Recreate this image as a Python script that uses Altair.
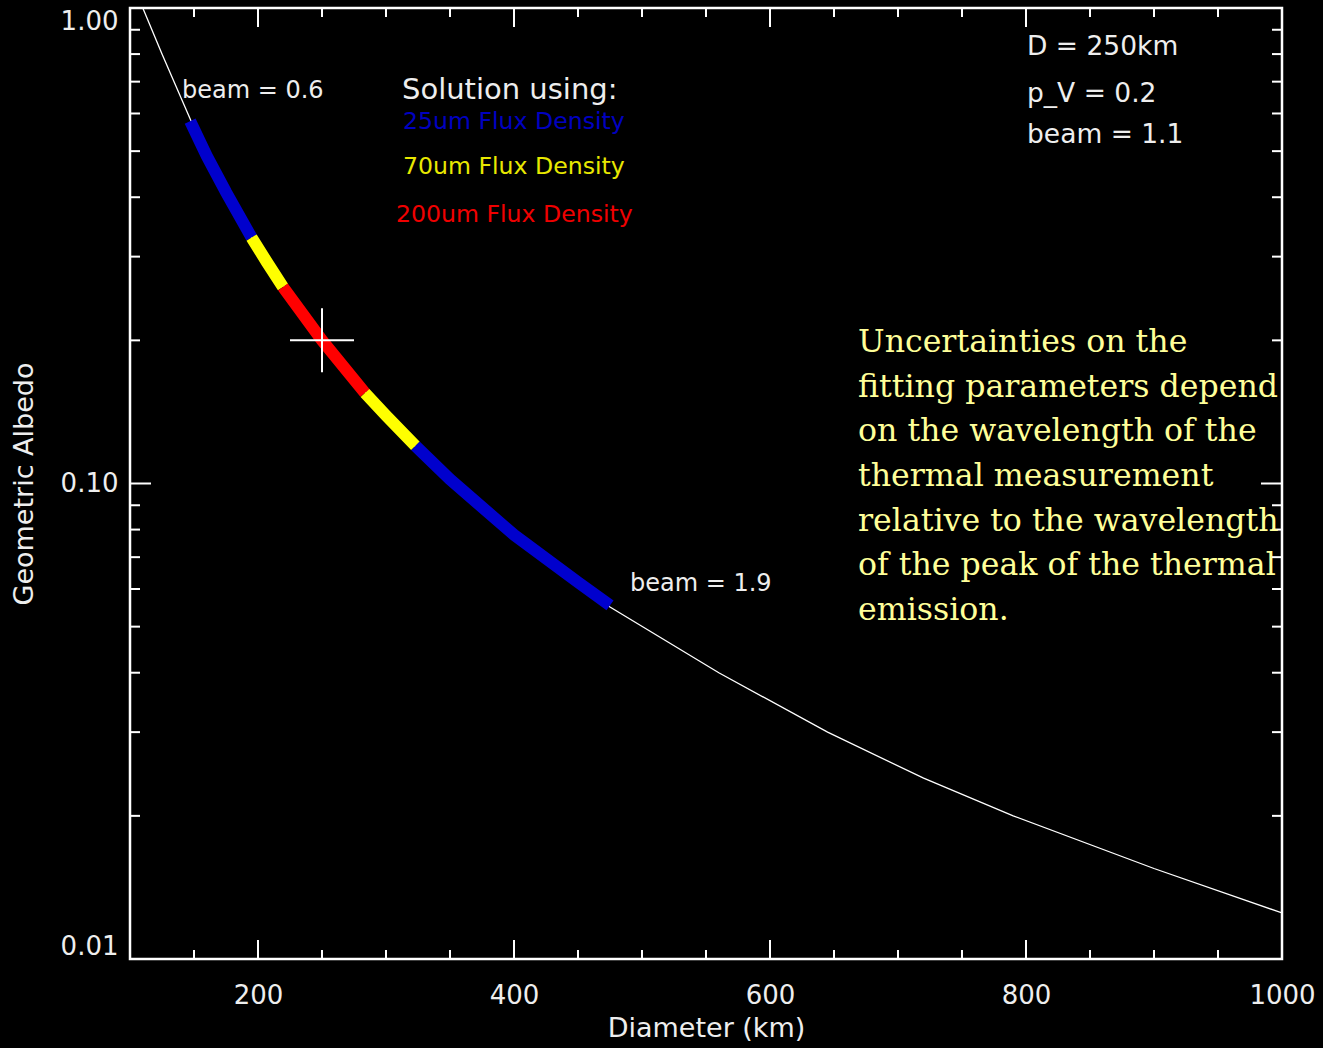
import altair as alt
import pandas as pd

# Iso-flux curve: geometric albedo versus diameter (thin white line)
diameter_km = [110, 125, 150, 175, 200, 225, 250, 275, 300, 325, 350, 400,
               450, 475, 560, 645, 720, 790, 900, 1000]
albedo = [1.00, 0.80, 0.56, 0.41, 0.31, 0.25, 0.20, 0.165, 0.139, 0.118,
          0.102, 0.078, 0.062, 0.055, 0.040, 0.030, 0.024, 0.020, 0.0155, 0.0125]

# Thick coloured stretches: range of solutions allowed by each flux density
band_names = ["25um a", "70um a", "200um", "70um b", "25um b"]
band_colors = ["#0000CD", "#FFFF00", "#FF0000", "#FFFF00", "#0000CD"]
band_diam = [
    [147, 160, 175, 195],
    [195, 207, 219.5],
    [219.5, 250, 283.6],
    [283.6, 300, 323],
    [323, 350, 400, 450, 475],
]
band_albedo = [
    [0.578, 0.488, 0.41, 0.329],
    [0.329, 0.292, 0.259],
    [0.259, 0.20, 0.155],
    [0.155, 0.139, 0.120],
    [0.120, 0.102, 0.078, 0.062, 0.0554],
]

# Best-fit solution marked by the cross
best_diam = [250]
best_albedo = [0.2]

# Tick positions
x_label_values = [200, 400, 600, 800, 1000]
x_major_ticks = [200, 400, 600, 800]
x_minor_ticks = [150, 250, 300, 350, 450, 500, 550, 650, 700, 750, 850, 900, 950]
y_label_values = [0.01, 0.1, 1.0]
y_major_ticks = [0.1]
y_minor_ticks = [0.02, 0.03, 0.04, 0.05, 0.06, 0.07, 0.08, 0.09,
                 0.2, 0.3, 0.4, 0.5, 0.6, 0.7, 0.8, 0.9]

W, H = 1152, 951
FG = "#EEEEEE"
SANS = "DejaVu Sans"

x_scale = alt.Scale(domain=[100, 1000], nice=False, zero=False)
y_scale = alt.Scale(type="log", domain=[0.01, 1.0], nice=False)

x_axis = alt.Axis(values=x_label_values, format="d", ticks=False, tickSize=0,
                  domain=False, grid=False, labelFontSize=26, labelFont=SANS,
                  labelColor=FG, labelPadding=23, labelFlush=False,
                  title="Diameter (km)", titleFont=SANS, titleFontSize=27,
                  titleFontWeight="normal", titleColor=FG, titlePadding=7)
y_axis = alt.Axis(values=y_label_values, format=".2f", ticks=False, tickSize=0,
                  domain=False, grid=False, labelFontSize=26, labelFont=SANS,
                  labelColor=FG, labelPadding=12, labelFlush=True,
                  title="Geometric Albedo", titleFont=SANS, titleFontSize=27,
                  titleFontWeight="normal", titleColor=FG, titlePadding=22)


def X(field):
    return alt.X(field, scale=x_scale, axis=x_axis)


def Y(field):
    return alt.Y(field, scale=y_scale, axis=y_axis)


curve_df = pd.DataFrame({"d": diameter_km, "p": albedo})

band_rows = []
for name, ds, ps in zip(band_names, band_diam, band_albedo):
    for i, (d, p) in enumerate(zip(ds, ps)):
        band_rows.append({"band": name, "order": i, "d": d, "p": p})
band_df = pd.DataFrame(band_rows)

curve = alt.Chart(curve_df).mark_line(color="white", strokeWidth=1.3, clip=True).encode(
    x=X("d:Q"), y=Y("p:Q"),
)

bands = alt.Chart(band_df).mark_line(strokeWidth=12, strokeCap="butt", clip=True).encode(
    x=X("d:Q"),
    y=Y("p:Q"),
    color=alt.Color("band:N", scale=alt.Scale(domain=band_names, range=band_colors),
                    legend=None),
    detail="band:N",
    order="order:Q",
)

cross = alt.Chart(pd.DataFrame({"d": best_diam, "p": best_albedo})).mark_point(
    shape="M-1,0L1,0M0,-1L0,1", size=4096, filled=False, stroke="white",
    strokeWidth=2, opacity=1,
).encode(x=X("d:Q"), y=Y("p:Q"))


def tick_layer(values, channel, length, side):
    df = pd.DataFrame({"d" if channel == "x" else "p": values})
    base = alt.Chart(df).mark_rule(color="white", strokeWidth=2)
    if channel == "x":
        y0, y1 = (H, H - length) if side == "bottom" else (0, length)
        return base.encode(x=X("d:Q"), y=alt.value(y0), y2=alt.value(y1))
    x0, x1 = (0, length) if side == "left" else (W, W - length)
    return base.encode(y=Y("p:Q"), x=alt.value(x0), x2=alt.value(x1))


ticks = [
    tick_layer(x_major_ticks, "x", 19, "bottom"),
    tick_layer(x_minor_ticks, "x", 9, "bottom"),
    tick_layer(x_major_ticks, "x", 19, "top"),
    tick_layer(x_minor_ticks, "x", 9, "top"),
    tick_layer(y_major_ticks, "y", 21, "left"),
    tick_layer(y_minor_ticks, "y", 10, "left"),
    tick_layer(y_major_ticks, "y", 21, "right"),
    tick_layer(y_minor_ticks, "y", 10, "right"),
]

# Annotations placed in data coordinates (diameter, albedo)
notes = [
    ("beam = 0.6", 140.6, 0.669, FG, 24),
    ("Solution using:", 312.5, 0.672, FG, 29),
    ("25um Flux Density", 313.3, 0.575, "#0000C0", 23.6),
    ("70um Flux Density", 313.3, 0.4627, "#E8E800", 23.6),
    ("200um Flux Density", 307.8, 0.3666, "#F00000", 23.6),
    ("D = 250km", 800.8, 0.828, FG, 26.5),
    ("p_V = 0.2", 800.8, 0.659, FG, 26.5),
    ("beam = 1.1", 800.8, 0.540, FG, 26.5),
    ("beam = 1.9", 490.6, 0.0616, FG, 24),
]
note_layers = []
for txt, d, p, col, fs in notes:
    note_layers.append(
        alt.Chart(pd.DataFrame({"d": [d], "p": [p], "t": [txt]})).mark_text(
            align="left", baseline="middle", font=SANS, fontSize=fs, color=col,
        ).encode(x=X("d:Q"), y=Y("p:Q"), text="t:N")
    )

caption_lines = [
    "Uncertainties on the",
    "fitting parameters depend",
    "on the wavelength of the",
    "thermal measurement",
    "relative to the wavelength",
    "of the peak of the thermal",
    "emission.",
]
caption = alt.Chart(pd.DataFrame({"d": [668.75], "p": [0.1888]})).mark_text(
    text=caption_lines, align="left", baseline="alphabetic", font="DejaVu Serif",
    fontSize=31.6, lineHeight=44.6, color="#FFFF99",
).encode(x=X("d:Q"), y=Y("p:Q"))

chart = alt.layer(curve, bands, cross, *ticks, *note_layers, caption).properties(
    width=W, height=H,
    padding={"left": 130, "top": 8, "right": 41, "bottom": 89},
    autosize=alt.AutoSizeParams(type="none"),
    background="black",
).configure_view(stroke="white", strokeWidth=2.5)

chart.save("out.html", embed_options={"renderer": "svg", "actions": False})
